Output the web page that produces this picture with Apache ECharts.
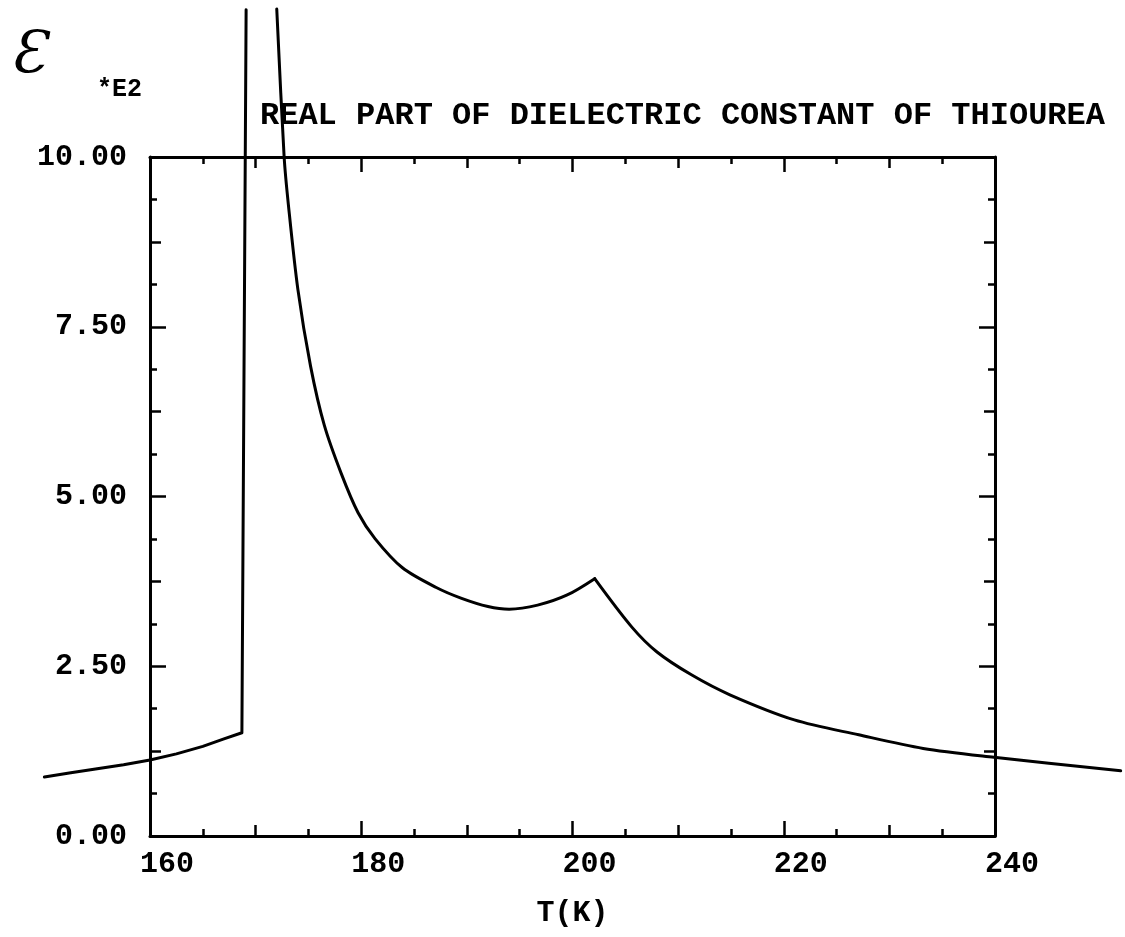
<!DOCTYPE html>
<html>
<head>
<meta charset="utf-8">
<script src="https://cdn.jsdelivr.net/npm/echarts@6/dist/echarts.min.js"></script>
<style>
html,body{margin:0;padding:0;background:#ffffff;}
#chart{width:1125px;height:937px;}
</style>
</head>
<body>
<div id="chart"></div>
<script>
// ---- data ----
const xTickLabels = [160, 180, 200, 220, 240];
const yTickLabels = ['0.00', '2.50', '5.00', '7.50', '10.00'];

// low-temperature branch (ends with the jump at ~169 K)
const lowT   = [150.0, 152.5, 155.0, 157.5, 160.0, 162.5, 165.0, 167.0, 168.7, 169.1];
const lowEps = [0.87, 0.93, 0.99, 1.05, 1.12, 1.21, 1.32, 1.43, 1.52, 12.17];

// branch from the divergence down to the 202 K cusp
const highT   = [172.0, 172.7, 173.1, 174.0, 175.2, 176.5, 178.1, 179.7, 181.3, 183.9, 187.1, 189.5, 192.0, 194.0, 196.7, 199.5, 202.1];
const highEps = [12.18, 10.0, 9.3, 8.05, 6.92, 6.05, 5.34, 4.76, 4.38, 3.95, 3.66, 3.50, 3.38, 3.34, 3.40, 3.55, 3.79];

// tail above the 202 K cusp
const tailT   = [202.1, 205.6, 208.0, 211.3, 214.9, 221.0, 227.1, 233.2, 239.9, 251.9];
const tailEps = [3.79, 3.08, 2.71, 2.37, 2.08, 1.71, 1.49, 1.29, 1.16, 0.96];

const titleText = 'REAL PART OF DIELECTRIC CONSTANT OF THIOUREA';
const xName = 'T(K)';
const yScaleText = '*E2';
const yName = 'Ɛ';

// ---- chart ----
const pairs = (xs, ys) => xs.map((x, i) => [x, ys[i]]);
const FONT = 'Liberation Mono';
const black = '#000000';

// plot frame: T 160..240 over x 150..995 px
const frameLeft = 150, frameRight = 995, tMin = 160, tMax = 240;
const pxPerK = (frameRight - frameLeft) / (tMax - tMin);
// the curve runs past the frame (as in the original plot), so it is drawn on a
// wider, hidden T axis that shares the same scale as the framed one
const curveTMin = 150, curveTMax = 252;

const gridBox = { left: frameLeft, right: 1125 - frameRight, top: 157, bottom: 101, outerBoundsMode: 'none' };
const curveGrid = {
  left: frameLeft - (tMin - curveTMin) * pxPerK,
  right: 1125 - (frameRight + (curveTMax - tMax) * pxPerK),
  top: 157, bottom: 101, outerBoundsMode: 'none'
};

function baseX(gridIndex, position, interval, tickLen, minor) {
  return {
    type: 'value', gridIndex, position, min: tMin, max: tMax, interval,
    axisLine: { show: !!minor, onZero: false, lineStyle: { color: black, width: 3 } },
    axisTick: { show: true, inside: true, length: tickLen, lineStyle: { color: black, width: 2.5 } },
    minorTick: { show: !!minor, splitNumber: 2, length: 7, lineStyle: { color: black, width: 2.5 } },
    splitLine: { show: false }, minorSplitLine: { show: false },
    axisLabel: { show: false }
  };
}
function baseY(gridIndex, position, interval, tickLen, minor) {
  return {
    type: 'value', gridIndex, position, min: 0, max: 10, interval,
    axisLine: { show: !!minor, onZero: false, lineStyle: { color: black, width: 3 } },
    axisTick: { show: true, inside: true, length: tickLen, lineStyle: { color: black, width: 2.5 } },
    minorTick: { show: !!minor, splitNumber: 2, length: 7, lineStyle: { color: black, width: 2.5 } },
    splitLine: { show: false }, minorSplitLine: { show: false },
    axisLabel: { show: false }
  };
}

const xBottomMajor = baseX(1, 'bottom', 20, 15, false);
xBottomMajor.axisLabel = {
  show: true, margin: 13, color: black, fontFamily: FONT, fontWeight: 'bold', fontSize: 30,
  padding: [0, 0, 0, 34],
  formatter: v => (xTickLabels.indexOf(v) >= 0 ? String(v) : '')
};
xBottomMajor.name = xName;
xBottomMajor.nameLocation = 'middle';
xBottomMajor.nameGap = 62;
xBottomMajor.nameTextStyle = { color: black, fontFamily: FONT, fontWeight: 'bold', fontSize: 30 };

const yLeftMajor = baseY(1, 'left', 2.5, 16, false);
yLeftMajor.axisLabel = {
  show: true, margin: 23, color: black, fontFamily: FONT, fontWeight: 'bold', fontSize: 30,
  formatter: v => yTickLabels[Math.round(v / 2.5)] || ''
};

const hiddenX = { type: 'value', gridIndex: 2, min: curveTMin, max: curveTMax, show: false, splitLine: { show: false } };
const hiddenY = { type: 'value', gridIndex: 2, min: 0, max: 10, show: false, splitLine: { show: false } };

const lineStyle = { color: black, width: 3, join: 'round', cap: 'round' };

const option = {
  backgroundColor: '#ffffff',
  animation: false,
  title: {
    text: titleText, left: 260, top: 100, padding: 0,
    textStyle: { color: black, fontFamily: FONT, fontWeight: 'bold', fontSize: 32 }
  },
  grid: [Object.assign({}, gridBox), Object.assign({}, gridBox), curveGrid],
  xAxis: [
    baseX(0, 'bottom', 10, 11, true),
    baseX(0, 'top', 10, 11, true),
    xBottomMajor,
    baseX(1, 'top', 20, 15, false),
    hiddenX
  ],
  yAxis: [
    baseY(0, 'left', 1.25, 11, true),
    baseY(0, 'right', 1.25, 11, true),
    yLeftMajor,
    baseY(1, 'right', 2.5, 16, false),
    hiddenY
  ],
  graphic: [
    { type: 'text', x: 10, y: 57, style: { text: yName, font: 'italic 58px "DejaVu Serif"', fill: black, textAlign: 'left', textVerticalAlign: 'middle' } },
    { type: 'text', x: 97, y: 90, style: { text: yScaleText, font: 'bold 25px "Liberation Mono"', fill: black, textAlign: 'left', textVerticalAlign: 'middle' } }
  ],
  series: [
    { type: 'line', xAxisIndex: 4, yAxisIndex: 4, data: pairs(lowT, lowEps), symbol: 'none', clip: false, lineStyle },
    { type: 'line', xAxisIndex: 4, yAxisIndex: 4, data: pairs(highT, highEps), symbol: 'none', clip: false, smooth: 0.3, lineStyle },
    { type: 'line', xAxisIndex: 4, yAxisIndex: 4, data: pairs(tailT, tailEps), symbol: 'none', clip: false, smooth: 0.3, lineStyle }
  ]
};

const chart = echarts.init(document.getElementById('chart'), null, { renderer: 'canvas' });
chart.setOption(option);
</script>
</body>
</html>
